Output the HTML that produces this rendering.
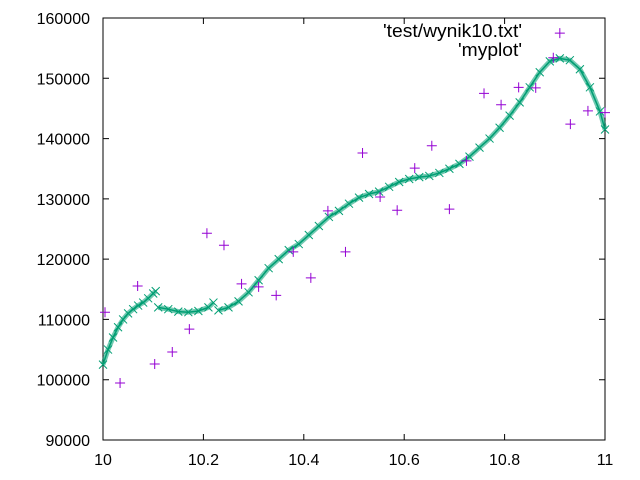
<!DOCTYPE html>
<html><head><meta charset="utf-8"><style>
html,body{margin:0;padding:0;background:#fff;}
svg{display:block;font-family:"Liberation Sans",sans-serif;}
</style></head><body>
<svg id="chart" width="640" height="480">
<rect x="103" y="18" width="502" height="422" fill="none" stroke="#000" stroke-width="1"/>
<g id="axes"></g>
<g id="curve"></g>
<g id="points"></g>
<text x="522" y="37" text-anchor="end" font-size="18" textLength="139" lengthAdjust="spacingAndGlyphs" fill="#000">'test/wynik10.txt'</text>
<text x="522" y="56" text-anchor="end" font-size="18" textLength="64" lengthAdjust="spacingAndGlyphs" fill="#000">'myplot'</text>
</svg>
<script>
const xTicks=[10,10.2,10.4,10.6,10.8,11];
const xTickLabels=["10","10.2","10.4","10.6","10.8","11"];
const yTicks=[90000,100000,110000,120000,130000,140000,150000,160000];
const dataX=[10.004,10.034,10.069,10.103,10.138,10.172,10.207,10.241,10.276,10.31,10.345,10.379,10.414,10.448,10.483,10.517,10.552,10.586,10.621,10.655,10.69,10.724,10.759,10.793,10.828,10.862,10.897,10.91,10.931,10.966,11.0];
const dataY=[111200,99450,115540,102600,104600,108400,124300,122300,115900,115400,114000,121200,116900,128000,121200,137600,130300,128100,135100,138800,128300,136300,147500,145600,148500,148400,153400,157500,142400,144600,144300];
const seg1X=[10.0,10.01,10.02,10.03,10.04,10.05,10.06,10.07,10.08,10.09,10.1,10.105];
const seg1Y=[102500,105000,107000,108700,110000,111000,111700,112300,112800,113500,114300,114700];
const seg2X=[10.11,10.13,10.15,10.17,10.19,10.21,10.22];
const seg2Y=[112000,111700,111300,111200,111400,112000,112800];
const seg3X=[10.23,10.25,10.27,10.29,10.31,10.33,10.35,10.37,10.39,10.41,10.43,10.45,10.47,10.49,10.51,10.53,10.55,10.57,10.59,10.61,10.63,10.65,10.67,10.69,10.71,10.73,10.75,10.77,10.79,10.81,10.83,10.85,10.87,10.89,10.91,10.93,10.95,10.97,10.99,11.0];
const seg3Y=[111500,112000,113000,114500,116500,118500,120000,121500,122500,124000,125500,127000,128000,129200,130200,130800,131200,132000,132800,133300,133600,133800,134300,135000,135800,137000,138500,140000,141800,143800,146000,148500,151000,152800,153300,153000,151500,148500,144500,141500];
const X=v=>103+(v-10)*502;
const Y=v=>440-(v-90000)*422/70000;
const NS="http://www.w3.org/2000/svg";
function mk(t,a,p){const e=document.createElementNS(NS,t);for(const k in a)e.setAttribute(k,a[k]);p.appendChild(e);return e;}
const axes=document.getElementById('axes');
xTicks.forEach((t,i)=>{const x=X(t);
 const l=mk('path',{d:`M${x} 440v-6M${x} 18v6`,stroke:'#000'},axes);
 
 
 const tx=mk('text',{x:x,y:465,'text-anchor':'middle','font-size':16},axes);tx.textContent=xTickLabels[i];
 
 });
yTicks.forEach(t=>{const y=Y(t);
 const l=mk('path',{d:`M103 ${y}h6M605 ${y}h-6`,stroke:'#000'},axes);
 
 
 const tx=mk('text',{x:90,y:y+6,'text-anchor':'end','font-size':16},axes);tx.textContent=String(t);
 
 });
const cg=document.getElementById('curve');
[[seg1X,seg1Y],[seg2X,seg2Y],[seg3X,seg3Y]].forEach(([xs,ys],si)=>{
 const pl=mk('polyline',{points:xs.map((v,i)=>X(v)+','+Y(ys[i])).join(' '),fill:'none',stroke:'#009e73','stroke-width':5,'stroke-opacity':0.55,'stroke-linejoin':'round'},cg);
 
 
 const pl2=mk('polyline',{points:xs.map((v,i)=>X(v)+','+Y(ys[i])).join(' '),fill:'none',stroke:'#009e73','stroke-width':1.5,'stroke-linejoin':'round'},cg);
 
 
 xs.forEach((v,i)=>{const x=X(v),y=Y(ys[i]);
  const m=mk('path',{d:`M${x-4} ${y-4}l8 8M${x-4} ${y+4}l8 -8`,stroke:'#009e73','stroke-width':1},cg);
  
  });
});
const pg=document.getElementById('points');
dataX.forEach((v,i)=>{const x=X(v),y=Y(dataY[i]);
 const m=mk('path',{d:`M${x-5} ${y}h10M${x} ${y-5}v10`,stroke:'#9400d3','stroke-width':1},pg);
 
 });
</script>
</body></html>
